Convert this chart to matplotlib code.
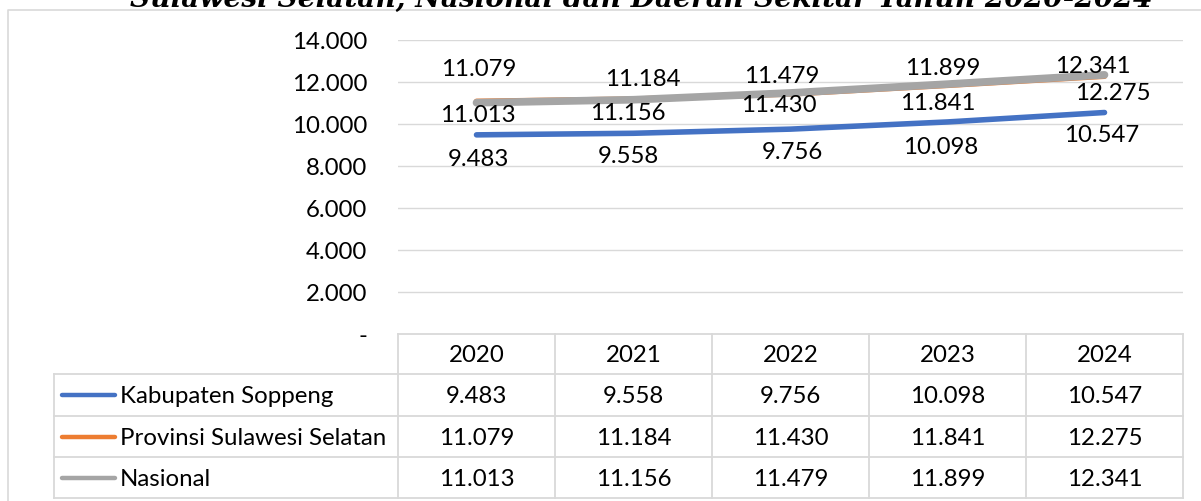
import matplotlib
matplotlib.use("Agg")
import matplotlib.pyplot as plt
import numpy as np

years = ["2020", "2021", "2022", "2023", "2024"]
series_names = ["Kabupaten Soppeng", "Provinsi Sulawesi Selatan", "Nasional"]
soppeng = [9483, 9558, 9756, 10098, 10547]
sulsel = [11079, 11184, 11430, 11841, 12275]
nasional = [11013, 11156, 11479, 11899, 12341]
yticks = [0, 2000, 4000, 6000, 8000, 10000, 12000, 14000]
title = "Sulawesi Selatan, Nasional dan Daerah Sekitar Tahun 2020-2024"

colors = ["#4472C4", "#ED7D31", "#A5A5A5"]
series = [soppeng, sulsel, nasional]
widths = [4.0, 4.0, 5.5]
# label offsets in pixels (dx, dy downwards)
offsets = [
    [(2, 24), (-5, 22), (2, 22), (-7, 25), (-3, 22)],
    [(2, -33), (9, -21), (-12, 11), (-10, 17), (8, 16)],
    [(1, 12), (-6, 13), (-9, -17), (-5, -17), (-12, -9)],
]

W, H = 1201, 502
FONT = "Lato"
FS = 17.3
GRID = "#D9D9D9"

fig = plt.figure(figsize=(W / 100, H / 100), dpi=100)

def fmt(v):
    return "-" if v == 0 else f"{v:,}".replace(",", ".")

# plot area
left, right, top, bottom = 398, 1183, 41, 335
ax = fig.add_axes([left / W, 1 - bottom / H, (right - left) / W, (bottom - top) / H])
ax.set_xlim(-0.5, len(years) - 0.5)
ax.set_ylim(0, 14000)
ax.set_yticks(yticks)
ax.set_yticklabels([fmt(v) for v in yticks], fontfamily=FONT, fontsize=FS)
ax.set_xticks([])
ax.tick_params(axis="y", length=0, pad=22)
for s in ax.spines.values():
    s.set_visible(False)
for v in yticks[1:]:
    ax.axhline(v, color=GRID, lw=1.0, zorder=0)

x = np.arange(len(years))
for k in [0, 1, 2]:
    ax.plot(x, series[k], color=colors[k], lw=widths[k], solid_capstyle="round",
            solid_joinstyle="round", zorder=2 + k)
for k in range(3):
    for i, v in enumerate(series[k]):
        dx, dy = offsets[k][i]
        ax.annotate(fmt(v), xy=(i, v), xytext=(dx, -dy), textcoords="offset pixels",
                    ha="center", va="center", fontfamily=FONT, fontsize=FS,
                    color="black", zorder=10, annotation_clip=False)

# overlay for frame, table and title
ov = fig.add_axes([0, 0, 1, 1])
ov.set_xlim(0, W)
ov.set_ylim(H, 0)
ov.axis("off")
ov.patch.set_alpha(0)

# chart frame
ov.plot([8, 8, W + 5], [H + 5, 11, 11], color=GRID, lw=1.2)

ov.text(641, 7, title, ha="center", va="baseline", fontsize=20.2,
        fontfamily="DejaVu Serif", fontweight="bold", fontstyle="italic")

# table
col_edges = [left + i * (right - left) / len(years) for i in range(len(years) + 1)]
row_edges = [335, 375, 417, 458, 499]
tleft = 54
for xe in col_edges:
    ov.plot([xe, xe], [row_edges[0], row_edges[-1]], color=GRID, lw=1.3)
ov.plot([tleft, tleft], [row_edges[1], row_edges[-1]], color=GRID, lw=1.3)
ov.plot([left, right], [row_edges[0], row_edges[0]], color=GRID, lw=1.3)
for ye in row_edges[1:]:
    ov.plot([tleft, right], [ye, ye], color=GRID, lw=1.3)

for i, yr in enumerate(years):
    cx = (col_edges[i] + col_edges[i + 1]) / 2
    ov.text(cx, (row_edges[0] + row_edges[1]) / 2 + 1, yr, ha="center", va="center",
            fontfamily=FONT, fontsize=FS)
for r, name in enumerate(series_names):
    cy = (row_edges[r + 1] + row_edges[r + 2]) / 2 + 1
    ov.plot([62, 115], [cy - 1, cy - 1], color=colors[r], lw=3.2, solid_capstyle="round")
    ov.text(120, cy, name, ha="left", va="center", fontfamily=FONT, fontsize=FS)
    for i, v in enumerate(series[r]):
        cx = (col_edges[i] + col_edges[i + 1]) / 2
        ov.text(cx, cy, fmt(v), ha="center", va="center", fontfamily=FONT, fontsize=FS)

fig.savefig("out.png", dpi=100)
